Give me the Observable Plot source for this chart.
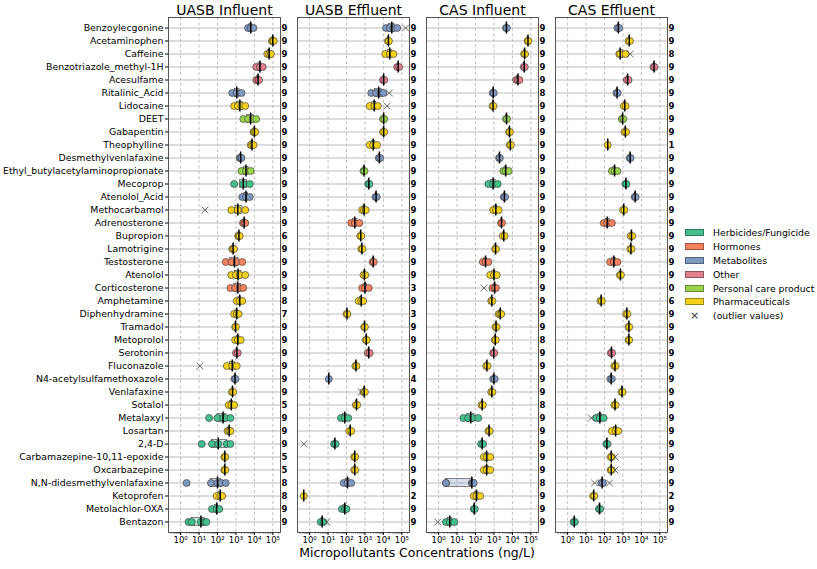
<!DOCTYPE html>
<html><head><meta charset="utf-8">
<script src="https://cdn.jsdelivr.net/npm/d3@7"></script>
<script src="https://cdn.jsdelivr.net/npm/@observablehq/plot@0.6"></script>
<style>
body{margin:0;background:#fff;font-family:"DejaVu Sans",sans-serif;}
#wrap{position:relative;width:817px;height:569px;overflow:hidden;}
#xlabel{position:absolute;left:167px;width:500px;top:545px;text-align:center;font-size:12.5px;color:#000;}
#legend{position:absolute;left:685px;top:226px;font-size:9.3px;color:#000;}
.lg{display:flex;align-items:center;height:13.8px;}
.sw{width:19px;height:7px;margin-right:9px;box-sizing:border-box;}
.xm{width:19px;margin-right:9px;text-align:center;font-size:11px;color:#333;}
</style>
</head><body><div id="wrap"></div>
<script>
const compounds = ["Benzoylecgonine","Acetaminophen","Caffeine","Benzotriazole_methyl-1H","Acesulfame","Ritalinic_Acid","Lidocaine","DEET","Gabapentin","Theophylline","Desmethylvenlafaxine","Ethyl_butylacetylaminopropionate","Mecoprop","Atenolol_Acid","Methocarbamol","Adrenosterone","Bupropion","Lamotrigine","Testosterone","Atenolol","Corticosterone","Amphetamine","Diphenhydramine","Tramadol","Metoprolol","Serotonin","Fluconazole","N4-acetylsulfamethoxazole","Venlafaxine","Sotalol","Metalaxyl","Losartan","2,4-D","Carbamazepine-10,11-epoxide","Oxcarbazepine","N,N-didesmethylvenlafaxine","Ketoprofen","Metolachlor-OXA","Bentazon"];
const H="Herbicides/Fungicide",Ho="Hormones",M="Metabolites",O="Other",P="Personal care product",Ph="Pharmaceuticals";
const compoundCategory = [M,Ph,Ph,O,O,M,Ph,P,Ph,Ph,M,P,H,M,Ph,Ho,Ph,Ph,Ho,Ph,Ho,Ph,Ph,Ph,Ph,O,Ph,M,Ph,Ph,H,Ph,H,Ph,Ph,M,Ph,H,H];
const categories = [H,Ho,M,O,P,Ph];
const categoryColors = ["#45bf8e","#f4825f","#7f98bf","#e07f8e","#9ad44c","#f6d11c"];
const panels = ["UASB Influent","UASB Effluent","CAS Influent","CAS Effluent"];

const uasbInfluent = [[4500,6300,8900],[89000,100000,112000],[50000,63000,79000],[12600,20000,28000],[12600,15800,17800],[630,1100,2000],[800,1260,2000,3200],[2500,4500,8000,12600],[8900,10000,11200],[6300,7400,8900],[1600,1800,2000],[2000,3500,6300],[800,2500,5600],[2200,3500,5600],[560,1260,3200],[2400,2800,3200],[1300,1450,1600],[630,700,800],[280,560,1100,2200],[560,1000,1600,3200],[500,900,1600,2500],[1100,1600,2200],[800,1100,1400],[900,1000],[900,1260,1800],[1000,1260],[320,630,1100],[830,950],[600,710],[400,560,800],[35,100,200,280,500],[350,430,500],[14,50,110,320,500],[235,265],[235,265],[2.1,44,100,160,280],[90,140,180],[50,90,125],[2.7,4,12.6,20,25]];
const uasbEffluent = [[14000,22000,35000,56000],[17400,20000],[12600,22000,35000],[56000,71000],[9500,11200],[2200,4000,7100,10000],[1800,3200,5000],[9500,11200],[9500,11200],[1800,2800,4500],[5600,6600],[830,950],[1500,1750],[3700,4300],[710,900,1100],[180,280,500],[550,630],[630,740],[2600,3000],[830,1050],[710,1000,1600],[450,630,800],[100,112],[900,1000],[1100,1260],[1400,1800],[300,350],[11],[830,1000],[320,380],[50,80,125],[140,180],[21,26],[260,300],[260,300],[70,112,180],[0.48],[56,80,100],[4,5.6]];
const casInfluent = [[4500,5000],[66000,74000],[43000,49000],[41000,47000],[15800,20000,24000],[850,980],[830,950],[4500,5100],[6500,7400],[7200,8300],[1900,2100],[3200,4300,6300],[500,900,1600],[3400,4000],[900,1260,1800],[2400,2750],[3000,3800],[1150,1300],[250,350,500],[630,1000,1400],[830,1100,1300],[710,830],[1800,2200,2500],[1200,1400],[1100,1260],[900,1050],[380,450],[900,1100],[710,830],[210,250],[22,40,70,140],[500,590],[200,260],[280,400,630],[280,400,630],[2.5,2.5,63,70,80],[80,112,180],[80,91],[2.5,4,7]];
const casEffluent = [[500,630],[2000,2400],[630,710,1400],[45000,52000],[1600,2000],[440,520],[1100,1400],[870,1050],[1200,1500],[150],[2300,2600],[250,350,500],[1350,1550],[4300,4900],[1000,1200],[90,140,250],[2600,3200],[2500,2900],[200,320,500],[680,780],[],[60,72],[1500,1750],[2000,2200],[2000,2200],[220,260],[340,400],[210,250],[830,950],[340,400],[35,56,90],[250,400,560],[125,145],[215,250],[215,250],[66,83],[24,28],[50,58],[2.1,2.5]];

const countsUasbInfluent = [9,9,9,9,9,9,9,9,9,9,9,9,9,9,9,9,6,9,9,9,9,8,7,9,9,9,9,9,9,5,9,9,9,5,5,8,8,9,9];
const countsUasbEffluent = [9,9,9,9,9,9,9,9,9,9,9,9,9,9,9,9,9,9,9,9,3,9,3,9,9,9,9,4,9,9,9,9,9,9,9,9,2,9,9];
const countsCasInfluent = [9,9,9,9,9,8,9,9,9,9,9,9,9,9,9,9,9,9,9,9,9,9,9,9,8,9,9,9,9,8,9,9,9,9,9,8,9,9,9];
const countsCasEffluent = [9,9,8,9,9,9,9,9,9,1,9,9,9,9,9,9,9,9,9,9,0,6,9,9,9,9,9,9,9,9,9,9,9,9,9,9,2,9,9];

const outlierPanel = ["UASB Influent","UASB Influent","UASB Effluent","UASB Effluent","UASB Effluent","UASB Effluent","UASB Effluent","UASB Effluent","CAS Influent","CAS Influent","CAS Effluent","CAS Effluent","CAS Effluent","CAS Effluent","CAS Effluent","CAS Effluent"];
const outlierCompound = ["Methocarbamol","Fluconazole","Benzoylecgonine","Ritalinic_Acid","Lidocaine","Venlafaxine","2,4-D","Bentazon","Corticosterone","Bentazon","Caffeine","Metalaxyl","Carbamazepine-10,11-epoxide","Oxcarbazepine","N,N-didesmethylvenlafaxine","N,N-didesmethylvenlafaxine"];
const outlierValue = [21,11,160000,21000,16000,630,0.48,8.5,290,0.9,2450,19.5,370,370,29,186];

const majorTicks = [1,10,100,1000,10000,100000];
const majorTickLabels = ["10⁰","10¹","10²","10³","10⁴","10⁵"];

// build tables
const panelData = [uasbInfluent, uasbEffluent, casInfluent, casEffluent];
const panelCounts = [countsUasbInfluent, countsUasbEffluent, countsCasInfluent, countsCasEffluent];
const points = [], boxes = [], counts = [];
panels.forEach((p, pi) => {
  compounds.forEach((c, ci) => {
    const vals = panelData[pi][ci];
    const cat = compoundCategory[ci];
    vals.forEach(v => points.push({panel: p, name: c, cat, v}));
    if (vals.length) {
      const s = vals.slice().sort((a,b)=>a-b);
      boxes.push({panel: p, name: c, cat, q1: d3.quantile(s, 0.25), med: d3.quantile(s, 0.5), q3: d3.quantile(s, 0.75)});
    }
    counts.push({panel: p, name: c, n: String(panelCounts[pi][ci])});
  });
});
const outliers = outlierValue.map((v, i) => ({panel: outlierPanel[i], name: outlierCompound[i], v}));
const minorTicks = [];
for (let e = -1; e <= 5; e++) for (let m = 2; m <= 9; m++) { const t = m * Math.pow(10, e); if (t > 0.22 && t < 2.6e5) minorTicks.push(t); }

const chart = Plot.plot({
  width: 817, height: 569,
  marginLeft: 167, marginRight: 150, marginTop: 17, marginBottom: 37,
  x: {type: "log", domain: [0.22, 2.6e5]},
  y: {type: "band", domain: compounds, padding: 0},
  fx: {domain: panels, paddingInner: 0.134, paddingOuter: 0},
  color: {domain: categories, range: categoryColors},
  style: {fontFamily: "DejaVu Sans", fontSize: "9px", color: "#000", background: "white"},
  marks: [
    Plot.ruleX(majorTicks, {stroke: "#b0b0b0", strokeDasharray: "3,2.5", strokeWidth: 0.8}),
    Plot.ruleY(compounds, {y: d => d, stroke: "#bdbdbd", strokeWidth: 1}),
    Plot.barX(boxes, {fx: "panel", y: "name", x1: "q1", x2: "q3", fill: "cat", fillOpacity: 0.3, stroke: "#555", strokeWidth: 0.7, insetTop: 2.5, insetBottom: 2.5}),
    Plot.dot(points, {fx: "panel", y: "name", x: "v", fill: "cat", stroke: "#333", strokeWidth: 0.6, r: 3.5}),
    Plot.tickX(boxes, {fx: "panel", y: "name", x: "med", stroke: "#000", strokeWidth: 1.5, insetTop: 0.5, insetBottom: 0.5}),
    Plot.dot(outliers, {fx: "panel", y: "name", x: "v", symbol: "times", stroke: "#444", strokeWidth: 0.8, r: 3.2}),
    Plot.text(counts, {fx: "panel", y: "name", text: "n", frameAnchor: "right", dx: 7, fontWeight: "bold", fontSize: 8.5}),
    Plot.frame({stroke: "#444", strokeWidth: 0.9}),
    Plot.axisX({ticks: minorTicks, tickSize: 1.5, tickFormat: () => "", stroke: "#444"}),
    Plot.axisX({ticks: majorTicks, tickSize: 3, tickPadding: 1.5, fontSize: 8.5, tickFormat: d => majorTickLabels[majorTicks.indexOf(d)], label: null}),
    Plot.axisY({tickSize: 3, tickPadding: 2, fontSize: 9.4, label: null}),
    Plot.axisFx({anchor: "top", tickSize: 0, tickPadding: 3, fontSize: 14, label: null})
  ]
});
const wrap = document.getElementById("wrap");
wrap.appendChild(chart);

const xl = document.createElement("div");
xl.id = "xlabel";
xl.textContent = "Micropollutants Concentrations (ng/L)";
wrap.appendChild(xl);

const lg = document.createElement("div");
lg.id = "legend";
categories.forEach((c, i) => {
  const row = document.createElement("div"); row.className = "lg";
  const sw = document.createElement("div"); sw.className = "sw";
  sw.style.background = categoryColors[i];
  sw.style.border = "1px solid " + d3.color(categoryColors[i]).darker(1.2);
  const t = document.createElement("span"); t.textContent = c;
  row.appendChild(sw); row.appendChild(t); lg.appendChild(row);
});
const row = document.createElement("div"); row.className = "lg";
const xm = document.createElement("div"); xm.className = "xm"; xm.textContent = "×";
const t = document.createElement("span"); t.textContent = "(outlier values)";
row.appendChild(xm); row.appendChild(t); lg.appendChild(row);
wrap.appendChild(lg);
</script>
</body></html>
